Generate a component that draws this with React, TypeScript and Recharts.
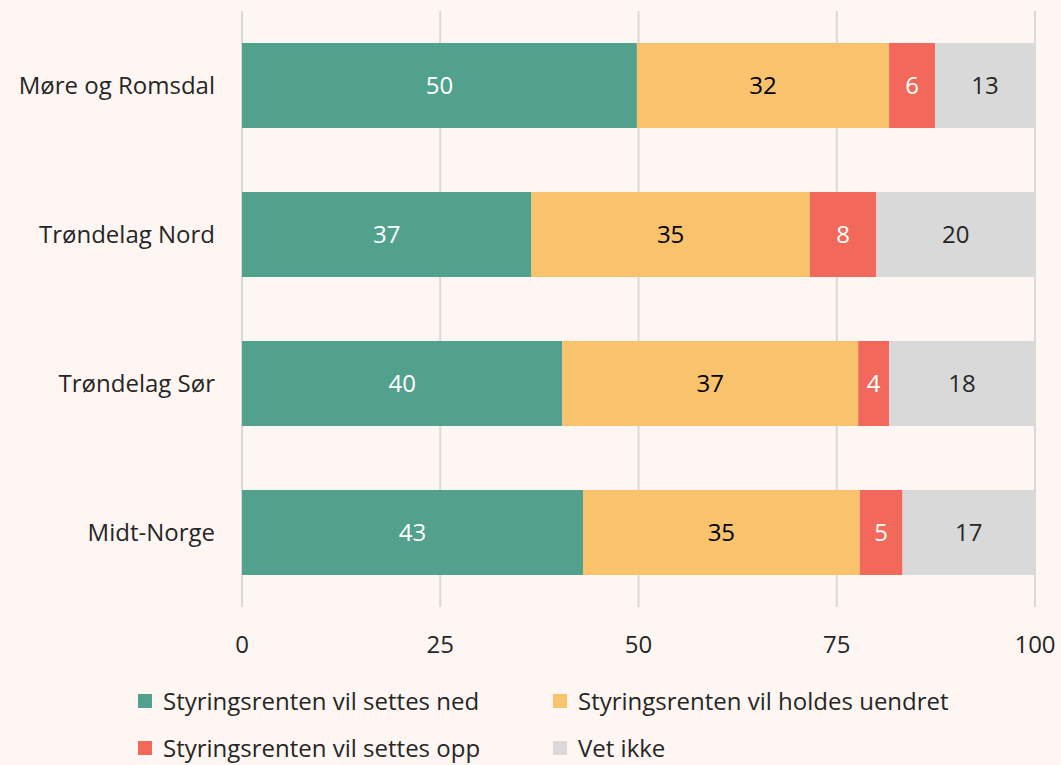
import React from "react";
import { BarChart, Bar, XAxis, YAxis, CartesianGrid, LabelList, Legend } from "recharts";

const categories = ["Møre og Romsdal", "Trøndelag Nord", "Trøndelag Sør", "Midt-Norge"];
const ned = [49.8, 36.5, 40.4, 43.0];
const uendret = [31.8, 35.1, 37.3, 34.9];
const opp = [5.8, 8.4, 3.9, 5.4];
const vetIkke = [12.6, 20.0, 18.4, 16.7];
const xTicks = [0, 25, 50, 75, 100];

const seriesNames = [
  "Styringsrenten vil settes ned",
  "Styringsrenten vil holdes uendret",
  "Styringsrenten vil settes opp",
  "Vet ikke",
];
const colors = ["#52A18C", "#F9C36E", "#F2695C", "#D9D9D9"];
const labelColors = ["#FFFFFF", "#000000", "#FFFFFF", "#262626"];

const data = categories.map((c, i) => ({
  name: c,
  ned: ned[i],
  uendret: uendret[i],
  opp: opp[i],
  vetIkke: vetIkke[i],
}));
const keys = ["ned", "uendret", "opp", "vetIkke"];

const FONT = "'Open Sans', sans-serif";
const BG = "#FEF6F3";
const FS = 24;

const LegendContent = () => (
  <div style={{ position: "relative", width: 900, height: 80, fontFamily: FONT }}>
    {seriesNames.map((n, i) => {
      const col = i % 2;
      const row = Math.floor(i / 2);
      return (
        <div
          key={n}
          style={{
            position: "absolute",
            left: col === 0 ? 0 : 415,
            top: row * 47,
            display: "flex",
            alignItems: "center",
            whiteSpace: "nowrap",
            height: 32,
          }}
        >
          <span style={{ width: 14, height: 14, background: colors[i], display: "inline-block", marginRight: 11 }} />
          <span style={{ fontSize: FS, color: "#262626", lineHeight: "32px" }}>{n}</span>
        </div>
      );
    })}
  </div>
);

export default function App() {
  return (
    <div style={{ position: "absolute", left: 0, top: 0, width: 1061, height: 765, background: BG }}>
      <BarChart
        width={1061}
        height={765}
        data={data}
        layout="vertical"
        margin={{ top: 11, right: 26, bottom: 98, left: 0 }}
        barCategoryGap={32}
      >
        <CartesianGrid horizontal={false} vertical={true} stroke="#D9D9D9" strokeWidth={2} />
        <XAxis
          type="number"
          domain={[0, 100]}
          ticks={xTicks}
          axisLine={false}
          tickLine={false}
          tickSize={0}
          tickMargin={29}
          height={60}
          tick={{ fill: "#262626", fontSize: FS, fontFamily: FONT }}
        />
        <YAxis
          type="category"
          dataKey="name"
          width={242}
          axisLine={false}
          tickLine={false}
          tickSize={0}
          tickMargin={27}
          tick={{ fill: "#262626", fontSize: FS, fontFamily: FONT }}
        />
        <Legend
          layout="horizontal"
          verticalAlign="middle"
          align="center"
          content={<LegendContent />}
          wrapperStyle={{ position: "absolute", left: 138, top: 685, width: 900, height: 80 }}
        />
        {keys.map((k, i) => (
          <Bar key={k} dataKey={k} name={seriesNames[i]} stackId="a" fill={colors[i]} barSize={85} isAnimationActive={false}>
            <LabelList
              dataKey={k}
              position="center"
              formatter={(v: number) => Math.round(v)}
              fill={labelColors[i]}
              style={{ fontSize: FS, fontFamily: FONT }}
            />
          </Bar>
        ))}
      </BarChart>
    </div>
  );
}
